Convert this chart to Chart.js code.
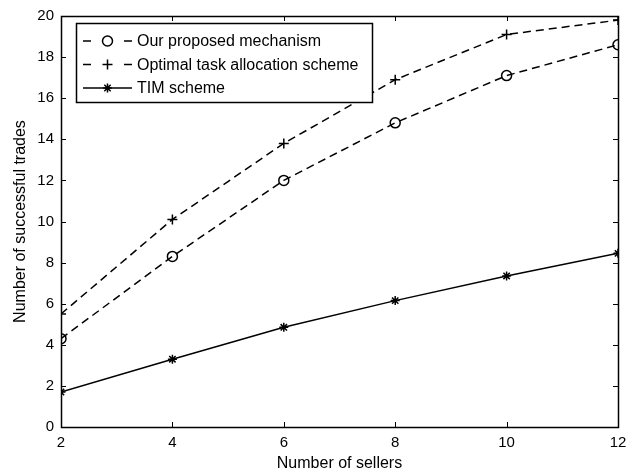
<!DOCTYPE html>
<html>
<head>
<meta charset="utf-8">
<script src="https://cdn.jsdelivr.net/npm/chart.js@4/dist/chart.umd.min.js"></script>
<style>
  html, body { margin: 0; padding: 0; background: #fff; }
  #wrap { width: 634px; height: 472px; position: relative; }
</style>
</head>
<body>
<div id="wrap"><canvas id="c" width="634" height="472"></canvas></div>
<script>
const sellers = [2, 4, 6, 8, 10, 12];
const proposed = [4.3, 8.3, 12.0, 14.8, 17.1, 18.6];
const optimal = [5.5, 10.1, 13.8, 16.9, 19.1, 19.8];
const tim = [1.7, 3.3, 4.85, 6.15, 7.35, 8.45];
const seriesNames = ['Our proposed mechanism', 'Optimal task allocation scheme', 'TIM scheme'];
const xTicks = [2, 4, 6, 8, 10, 12];
const yTicks = [0, 2, 4, 6, 8, 10, 12, 14, 16, 18, 20];

const FONT = "'Liberation Sans', Arial, Helvetica, sans-serif";

function pts(vals) { return sellers.map((s, i) => ({ x: s, y: vals[i] })); }

const frame = {
  id: 'frame',
  afterDatasetsDraw(chart) {
    const ctx = chart.ctx, a = chart.chartArea;
    const xs = chart.scales.x, ys = chart.scales.y;
    ctx.save();
    ctx.strokeStyle = '#000';
    ctx.lineWidth = 1;
    ctx.beginPath();
    const L = 5;
    xTicks.forEach(v => {
      const px = Math.round(xs.getPixelForValue(v)) + 0.5;
      ctx.moveTo(px, a.bottom); ctx.lineTo(px, a.bottom - L);
      ctx.moveTo(px, a.top); ctx.lineTo(px, a.top + L);
    });
    yTicks.forEach(v => {
      const py = Math.round(ys.getPixelForValue(v)) + 0.5;
      ctx.moveTo(a.left, py); ctx.lineTo(a.left + L, py);
      ctx.moveTo(a.right, py); ctx.lineTo(a.right - L, py);
    });
    ctx.stroke();
    ctx.lineWidth = 1.5;
    ctx.strokeRect(Math.round(a.left) + 0.5, Math.round(a.top) + 0.5,
                   Math.round(a.right - a.left), Math.round(a.bottom - a.top));
    ctx.restore();

    // legend
    const bx = 76.5, by = 23.5, bw = 296, bh = 79;
    ctx.save();
    ctx.fillStyle = '#fff';
    ctx.fillRect(bx, by, bw, bh);
    ctx.strokeStyle = '#000';
    ctx.lineWidth = 1.5;
    ctx.strokeRect(bx, by, bw, bh);
    ctx.textBaseline = 'middle';
    chart.data.datasets.forEach((ds, i) => {
      const cy = 41 + i * 23.5;
      ctx.save();
      ctx.strokeStyle = '#000';
      ctx.lineWidth = ds.borderWidth;
      ctx.beginPath();
      if (ds.borderDash && ds.borderDash.length) {
        ctx.moveTo(83, cy); ctx.lineTo(91, cy);
        ctx.moveTo(124, cy); ctx.lineTo(132, cy);
      } else {
        ctx.moveTo(83, cy); ctx.lineTo(132, cy);
      }
      ctx.stroke();
      ctx.fillStyle = 'rgba(0,0,0,0)';
      ctx.strokeStyle = '#000';
      ctx.lineWidth = ds.pointBorderWidth;
      Chart.helpers.drawPoint(ctx, {
        pointStyle: ds.pointStyle, radius: ds.pointRadius, borderWidth: ds.pointBorderWidth, rotation: 0
      }, 107.5, cy);
      ctx.restore();
      ctx.font = '16px ' + FONT;
      ctx.fillStyle = '#000';
      ctx.fillText(ds.label, 137, cy + 1);
    });
    ctx.restore();
  }
};

const mk = (label, vals, style, dash, r) => ({
  label, data: pts(vals),
  borderColor: '#000', backgroundColor: '#000',
  borderWidth: 1.5, borderDash: dash,
  pointStyle: style, pointRadius: r, pointHoverRadius: r,
  pointBorderColor: '#000', pointBackgroundColor: 'rgba(0,0,0,0)', pointBorderWidth: 1.5,
  tension: 0, fill: false
});

new Chart(document.getElementById('c'), {
  type: 'line',
  data: {
    datasets: [
      mk(seriesNames[0], proposed, 'circle', [8, 5], 5),
      mk(seriesNames[1], optimal, 'cross', [8, 5], 5),
      mk(seriesNames[2], tim, 'star', [], 4.5)
    ]
  },
  options: {
    responsive: false,
    animation: false,
    events: [],
    layout: { padding: { top: 13, right: 16, left: 0, bottom: 0 } },
    plugins: { legend: { display: false }, tooltip: { enabled: false } },
    scales: {
      x: {
        type: 'linear', min: 2, max: 12,
        afterBuildTicks: s => { s.ticks = xTicks.map(v => ({ value: v })); },
        ticks: { color: '#000', font: { family: FONT, size: 15 }, padding: 7, maxRotation: 0 },
        grid: { display: false, drawTicks: false },
        border: { display: false },
        title: { display: true, text: 'Number of sellers', color: '#000', font: { family: FONT, size: 16, lineHeight: 1 }, padding: { top: 0, bottom: 0 } },
        afterFit: s => { s.height = 45; }
      },
      y: {
        type: 'linear', min: 0, max: 20,
        afterBuildTicks: s => { s.ticks = yTicks.map(v => ({ value: v })); },
        ticks: { color: '#000', font: { family: FONT, size: 15 }, padding: 7 },
        grid: { display: false, drawTicks: false },
        border: { display: false },
        title: { display: true, text: 'Number of successful trades', color: '#000', font: { family: FONT, size: 16 }, padding: { top: 11, bottom: 0 } },
        afterFit: s => { s.width = 61; }
      }
    }
  },
  plugins: [frame]
});
</script>
</body>
</html>
